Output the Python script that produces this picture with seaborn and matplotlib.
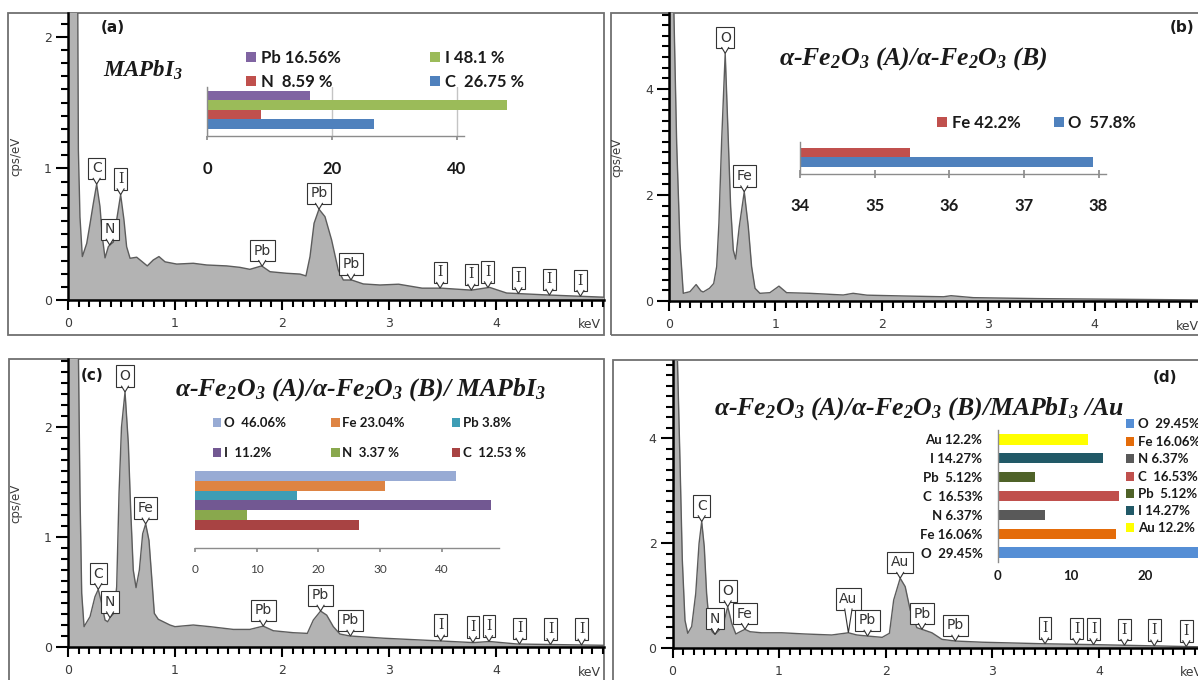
import numpy as np
import matplotlib
matplotlib.use("Agg")
import matplotlib.pyplot as plt
import matplotlib.transforms as mtransforms
from matplotlib.patches import Patch, Rectangle, Polygon
from matplotlib.ticker import MultipleLocator
import seaborn as sns

# ---------------- data ----------------
# (a) MAPbI3 spectrum
a_kev = [0.0, 0.06, 0.09, 0.097, 0.112, 0.134, 0.175, 0.206, 0.237, 0.268, 0.299, 0.321, 0.346,
         0.377, 0.393, 0.424, 0.455, 0.492, 0.523, 0.548, 0.58, 0.642, 0.68, 0.741, 0.797, 0.85,
         0.907, 1.016, 1.171, 1.296, 1.483, 1.607, 1.70, 1.81, 1.888, 2.044, 2.168, 2.224, 2.262,
         2.30, 2.346, 2.402, 2.464, 2.526, 2.573, 2.651, 2.76, 2.916, 3.09, 3.31, 3.49, 3.77, 3.94,
         4.10, 4.49, 5.05]
a_cps = [6.0, 6.0, 2.5, 1.14, 0.63, 0.33, 0.43, 0.58, 0.735, 0.88, 0.71, 0.48, 0.32,
         0.405, 0.42, 0.44, 0.61, 0.80, 0.61, 0.405, 0.317, 0.325, 0.30, 0.259, 0.304, 0.33,
         0.29, 0.273, 0.279, 0.266, 0.259, 0.248, 0.233, 0.259, 0.215, 0.203, 0.197, 0.183, 0.33,
         0.583, 0.69, 0.633, 0.456, 0.228, 0.152, 0.152, 0.122, 0.114, 0.12, 0.09, 0.09, 0.075, 0.096,
         0.053, 0.038, 0.02]
a_peak_names = ["C", "N", "I", "Pb", "Pb", "Pb", "I", "I", "I", "I", "I", "I"]
a_peak_kev = [0.268, 0.39, 0.492, 1.815, 2.346, 2.645, 3.478, 3.77, 3.925, 4.21, 4.50, 4.79]

# (b) a-Fe2O3 (A)/a-Fe2O3 (B) spectrum
b_kev = [0.0, 0.04, 0.072, 0.103, 0.134, 0.197, 0.255, 0.30, 0.322, 0.38, 0.42, 0.448, 0.469,
         0.495, 0.528, 0.557, 0.579, 0.604, 0.626, 0.66, 0.707, 0.745, 0.776, 0.808, 0.854,
         0.948, 1.033, 1.105, 1.324, 1.637, 1.73, 1.86, 2.22, 2.58, 2.65, 2.86, 3.47, 5.0]
b_cps = [12.0, 6.0, 2.97, 1.09, 0.145, 0.176, 0.31, 0.19, 0.17, 0.24, 0.33, 0.65, 1.47,
         3.04, 4.67, 3.04, 1.78, 0.96, 0.79, 1.40, 2.06, 1.40, 0.65, 0.24, 0.145,
         0.157, 0.28, 0.157, 0.145, 0.113, 0.145, 0.11, 0.094, 0.08, 0.10, 0.063, 0.045, 0.02]
b_peak_names = ["O", "Fe"]
b_peak_kev = [0.528, 0.707]

# (c) a-Fe2O3 (A)/a-Fe2O3 (B)/MAPbI3 spectrum
c_kev = [0.0, 0.06, 0.097, 0.112, 0.128, 0.15, 0.206, 0.252, 0.283, 0.315, 0.346, 0.371, 0.399,
         0.43, 0.455, 0.477, 0.50, 0.533, 0.564, 0.586, 0.61, 0.636, 0.667, 0.698, 0.726, 0.757,
         0.782, 0.807, 0.844, 0.953, 1.0, 1.171, 1.327, 1.545, 1.70, 1.825, 1.919, 2.106, 2.237,
         2.293, 2.361, 2.418, 2.48, 2.542, 2.636, 2.95, 3.48, 3.79, 3.94, 4.2, 5.05]
c_cps = [6.0, 6.0, 2.7, 1.40, 0.49, 0.185, 0.276, 0.457, 0.524, 0.397, 0.245, 0.23, 0.276,
         0.306, 0.548, 1.40, 2.0, 2.32, 1.85, 1.245, 0.70, 0.54, 0.70, 1.03, 1.12, 0.97,
         0.64, 0.306, 0.252, 0.20, 0.185, 0.20, 0.185, 0.16, 0.16, 0.19, 0.148, 0.13, 0.124,
         0.245, 0.327, 0.29, 0.185, 0.118, 0.10, 0.08, 0.055, 0.04, 0.05, 0.027, 0.015]
c_peak_names = ["C", "N", "O", "Fe", "Pb", "Pb", "Pb", "I", "I", "I", "I", "I", "I"]
c_peak_kev = [0.283, 0.393, 0.533, 0.726, 1.825, 2.361, 2.64, 3.485, 3.785, 3.935, 4.22, 4.51, 4.80]

# (d) a-Fe2O3 (A)/a-Fe2O3 (B)/MAPbI3/Au spectrum
d_kev = [0.0, 0.04, 0.07, 0.092, 0.117, 0.143, 0.18, 0.218, 0.249, 0.274, 0.298, 0.32, 0.345,
         0.373, 0.399, 0.446, 0.487, 0.518, 0.556, 0.594, 0.634, 0.68, 0.728, 0.837, 1.025,
         1.244, 1.494, 1.65, 1.73, 1.83, 1.967, 2.035, 2.075, 2.136, 2.183, 2.23, 2.293, 2.34,
         2.434, 2.528, 2.653, 2.91, 3.50, 3.94, 5.0]
d_cps = [12.0, 6.0, 3.58, 1.68, 0.53, 0.28, 0.41, 1.04, 1.99, 2.41, 1.93, 1.04, 0.47,
         0.31, 0.26, 0.356, 0.533, 0.787, 0.47, 0.267, 0.31, 0.356, 0.31, 0.29, 0.29,
         0.267, 0.248, 0.29, 0.248, 0.228, 0.203, 0.28, 0.914, 1.33, 1.17, 0.724, 0.387, 0.356,
         0.29, 0.165, 0.133, 0.11, 0.08, 0.065, 0.02]
d_peak_names = ["C", "N", "O", "Fe", "Au", "Pb", "Au", "Pb", "Pb", "I", "I", "I", "I", "I", "I"]
d_peak_kev = [0.274, 0.399, 0.518, 0.68, 1.65, 1.83, 2.136, 2.34, 2.653, 3.495, 3.79, 3.95, 4.24, 4.52, 4.82]

# inset compositions
a_el = ["Pb", "I", "N", "C"]
a_pct = [16.56, 48.1, 8.59, 26.75]
a_legend = ["Pb 16.56%", "I 48.1 %", "N  8.59 %", "C  26.75 %"]
a_colors = ["#8064A2", "#9BBB59", "#C0504D", "#4F81BD"]
a_ticks = [0, 20, 40]

b_el = ["Fe", "O"]
b_bar = [35.48, 37.92]
b_legend = ["Fe 42.2%", "O  57.8%"]
b_colors = ["#C0504D", "#4F81BD"]
b_ticks = [34, 35, 36, 37, 38]

c_el = ["O", "Fe", "Pb", "I", "N", "C"]
c_bar = [42.2, 30.7, 16.5, 48.0, 8.5, 26.5]
c_legend = ["O  46.06%", "Fe 23.04%", "Pb 3.8%", "I  11.2%", "N  3.37 %", "C  12.53 %"]
c_colors = ["#98ABD4", "#DE8443", "#3E9DB5", "#725892", "#89A84D", "#A84343"]
c_ticks = [0, 10, 20, 30, 40]

d_el = ["Au", "I", "Pb", "C", "N", "Fe", "O"]
d_pct = [12.2, 14.27, 5.12, 16.53, 6.37, 16.06, 29.45]
d_labels = ["Au 12.2%", "I 14.27%", "Pb  5.12%", "C  16.53%", "N 6.37%", "Fe 16.06%", "O  29.45%"]
d_colors = ["#FFFF00", "#215967", "#4F6228", "#C0504D", "#595959", "#E46C0A", "#558ED5"]
d_legend_order = ["O", "Fe", "N", "C", "Pb", "I", "Au"]
d_ticks = [0, 10, 20]

# ---------------- style ----------------
sns.set_theme(style="white")
plt.rcParams["font.family"] = ["DejaVu Sans"]
plt.rcParams["mathtext.fontset"] = "custom"
plt.rcParams["mathtext.rm"] = "Liberation Serif:bold:italic"
plt.rcParams["mathtext.it"] = "Liberation Serif:bold:italic"
plt.rcParams["mathtext.bf"] = "Liberation Serif:bold:italic"

W, H, DPI = 1198, 680, 100
FILL = "#B3B3B3"
LINE = "#5C5C5C"
TXT = "#3A3A3A"
GRAYAX = "#8C8C8C"
SANS = ["Lato", "DejaVu Sans"]
SERIF = ["Liberation Serif", "DejaVu Serif"]
TITLE_FS = 18.5

fig = plt.figure(figsize=(W / DPI, H / DPI), dpi=DPI)
fig.patch.set_facecolor("white")


def add_ax(l, t, r, b):
    return fig.add_axes([l / W, 1 - b / H, (r - l) / W, (b - t) / H])


def frame(l, t, r, b):
    fig.add_artist(Rectangle((l / W, 1 - b / H), (r - l) / W, (b - t) / H,
                             transform=fig.transFigure, fill=False,
                             ec="#707070", lw=1.3, zorder=0))


def spectrum(ax, kev, cps, xmax, ymax, yticks, yminor, ylabel=True):
    ax.fill_between(kev, cps, 0, color=FILL, lw=0, zorder=1)
    sns.lineplot(x=kev, y=cps, ax=ax, color=LINE, lw=1.0, estimator=None,
                 sort=False, zorder=2)
    ax.set_facecolor("none")
    for s in ["top", "right"]:
        ax.spines[s].set_visible(False)
    for s in ["left", "bottom"]:
        ax.spines[s].set_color("black")
        ax.spines[s].set_linewidth(1.8)
    ax.set_xticks([0, 1, 2, 3, 4])
    ax.xaxis.set_minor_locator(MultipleLocator(0.1))
    ax.set_yticks(yticks)
    ax.yaxis.set_minor_locator(MultipleLocator(yminor))
    ax.tick_params(axis="both", which="both", direction="out", color="black",
                   width=1.5, labelsize=9, labelcolor=TXT, bottom=True, left=True)
    ax.tick_params(axis="x", which="major", length=7.5, pad=5)
    ax.tick_params(axis="x", which="minor", length=5)
    ax.tick_params(axis="y", which="major", length=9, pad=2.5)
    ax.tick_params(axis="y", which="minor", length=5)
    ax.set_xlabel("")
    ax.set_ylabel("")
    if ylabel:
        ax.set_ylabel("cps/eV", fontsize=8.5, color=TXT)
        ax.yaxis.set_label_coords(-0.086, 0.5)
    ax.text(4.87, -0.087, "keV", transform=ax.get_xaxis_transform(), ha="center",
            va="center", fontsize=9, color=TXT, clip_on=False)
    ax.set_xlim(0, xmax)
    ax.set_ylim(0, ymax)


def peak_labels(ax, names, kevs, kev, cps, lifts=None):
    fs, pad = 10, 0.27
    for i, (nm, e) in enumerate(zip(names, kevs)):
        y = float(np.interp(e, kev, cps))
        lift = 0 if lifts is None else lifts[i]
        h = 3.6 + lift
        fam = ["DejaVu Serif"] if nm == "I" else ["DejaVu Sans"]
        ax.annotate(nm, xy=(e, y), xytext=(0, h + fs * pad), textcoords="offset points",
                    ha="center", va="bottom", fontsize=fs, color="#333333", family=fam,
                    bbox=dict(boxstyle=f"square,pad={pad}", fc="white", ec="#333333", lw=0.8),
                    zorder=5)
        tr = (mtransforms.Affine2D().scale(1 / 72.0) + fig.dpi_scale_trans +
              mtransforms.ScaledTranslation(e, y, ax.transData))
        ax.add_patch(Polygon([(-2.7, h + 0.9), (0, 0), (2.7, h + 0.9)], closed=False,
                             fc="white", ec="#333333", lw=0.8, transform=tr, zorder=6))


def legend_entry(label, color, xpx, ypx, fs, sq_px, gap_px):
    fpx = fs * DPI / 72.0
    fig.legend(handles=[Patch(facecolor=color, edgecolor="none")], labels=[label],
               loc="center left", bbox_to_anchor=(xpx / W, 1 - ypx / H), frameon=False,
               borderpad=0, borderaxespad=0, handlelength=sq_px / fpx,
               handleheight=sq_px / fpx, handletextpad=gap_px / fpx,
               prop=dict(family=SANS, weight="bold", size=fs), labelcolor="#1A1A1A")


def inset_bars(ax, vals, cats, colors, width):
    sns.barplot(x=vals, y=cats, hue=cats, palette=colors, width=width, saturation=1,
                legend=False, ax=ax, orient="y", linewidth=0)
    ax.set_facecolor("none")
    ax.set_xlabel("")
    ax.set_ylabel("")
    for s in ["top", "right"]:
        ax.spines[s].set_visible(False)
    for s in ["left", "bottom"]:
        ax.spines[s].set_color(GRAYAX)
        ax.spines[s].set_linewidth(1.0)


def style_ticklabels(ax, axis, size, weight, color="#1A1A1A"):
    lbls = ax.get_xticklabels() if axis == "x" else ax.get_yticklabels()
    for t in lbls:
        t.set_family(SANS)
        t.set_fontweight(weight)
        t.set_fontsize(size)
        t.set_color(color)


def title(xpx, ypx, s, fs=TITLE_FS):
    fig.text(xpx / W, 1 - ypx / H, s, ha="left", va="baseline", fontsize=fs,
             family=SERIF, style="italic", weight="bold", color="#1A1A1A")


def panel_letter(xpx, ypx, s):
    fig.text(xpx / W, 1 - ypx / H, s, ha="center", va="center", fontsize=11,
             weight="bold", color="#1A1A1A")


# ---------------- frames ----------------
frame(8, 13, 604, 335)
frame(611, 13, 1210, 335)
frame(9, 359, 604, 690)
frame(613, 360, 1210, 690)

# ---------------- panel (a) ----------------
axa = add_ax(68, 13, 604, 300)
spectrum(axa, a_kev, a_cps, 5.01, 2.18, [0, 1, 2], 0.1)
peak_labels(axa, a_peak_names, a_peak_kev, a_kev, a_cps)

ia = add_ax(207, 87, 464, 136)
inset_bars(ia, a_pct, a_el, a_colors, 1.0)
for p in ia.patches:
    p.set_clip_on(False)
ia.set_xlim(0, 41.2)
ia.set_ylim(4.24, -0.92)
ia.set_yticks([])
ia.set_xticks(a_ticks)
ia.xaxis.grid(True, color="#C4C4C4", lw=1.0)
ia.set_axisbelow(True)
ia.tick_params(axis="x", bottom=True, direction="out", length=3, color=GRAYAX, pad=15)
style_ticklabels(ia, "x", 12, "bold")
for lab, col, pos in zip(a_legend, a_colors, [(246, 58), (430, 58), (246, 82), (430, 82)]):
    legend_entry(lab, col, pos[0], pos[1], 12, 10, 4.6)

title(103, 77, "MAPbI$_3$", fs=16.5)
panel_letter(113, 27, "(a)")

# ---------------- panel (b) ----------------
axb = add_ax(669, 13, 1198, 301)
spectrum(axb, b_kev, b_cps, 4.97, 5.43, [0, 2, 4], 0.2)
peak_labels(axb, b_peak_names, b_peak_kev, b_kev, b_cps)

ib = add_ax(800, 142, 1106, 174)
inset_bars(ib, b_bar, b_el, b_colors, 1.0)
ib.set_xlim(34, 38.1)
ib.set_ylim(2.24, -1.13)
ib.set_yticks([])
ib.set_xticks(b_ticks)
ib.tick_params(axis="x", bottom=True, direction="inout", length=6, color=GRAYAX, pad=14)
style_ticklabels(ib, "x", 12, "bold")
for lab, col, pos in zip(b_legend, b_colors, [(937, 123), (1054, 123)]):
    legend_entry(lab, col, pos[0], pos[1], 12, 10, 4.5)

title(779, 65, "α-Fe$_2$O$_3$ (A)/α-Fe$_2$O$_3$ (B)")
panel_letter(1182, 28, "(b)")

# ---------------- panel (c) ----------------
axc = add_ax(68, 359, 604, 647)
spectrum(axc, c_kev, c_cps, 5.01, 2.62, [0, 1, 2], 0.1)
peak_labels(axc, c_peak_names, c_peak_kev, c_kev, c_cps)

ic = add_ax(195, 471, 499.4, 548.3)
inset_bars(ic, c_bar, c_el, c_colors, 1.0)
ic.spines["left"].set_visible(False)
ic.set_xlim(0, 49.3)
ic.set_ylim(7.37, -0.5)
ic.set_yticks([])
ic.set_xticks(c_ticks)
ic.tick_params(axis="x", bottom=True, direction="out", length=3.2, color=GRAYAX, pad=8)
style_ticklabels(ic, "x", 8.5, "normal", color="#404040")
c_pos = [(212.5, 423), (331, 423), (451.6, 423), (212.5, 453), (331, 453), (451.6, 453)]
for lab, col, pos in zip(c_legend, c_colors, c_pos):
    legend_entry(lab, col, pos[0], pos[1], 9.5, 8.5, 2.5)

title(175, 396, "α-Fe$_2$O$_3$ (A)/α-Fe$_2$O$_3$ (B)/ MAPbI$_3$")
panel_letter(92, 375, "(c)")

# ---------------- panel (d) ----------------
axd = add_ax(672.5, 361, 1198, 648)
spectrum(axd, d_kev, d_cps, 4.93, 5.47, [0, 2, 4], 0.2, ylabel=False)
d_lifts = [0, 0, 0, 0, 13, 0, 0, 0, 0, 0, 0, 0, 0, 0, 0]
peak_labels(axd, d_peak_names, d_peak_kev, d_kev, d_cps, d_lifts)

idd = add_ax(997.7, 430, 1198, 562)
inset_bars(idd, d_pct, d_el, d_colors, 0.55)
idd.spines["bottom"].set_visible(False)
idd.set_xlim(0, 27.2)
idd.set_ylim(6.5, -0.5)
idd.set_yticks(range(len(d_el)), labels=d_labels)
idd.set_xticks(d_ticks)
idd.tick_params(axis="both", length=0)
idd.tick_params(axis="y", pad=11)
idd.tick_params(axis="x", pad=6)
style_ticklabels(idd, "x", 9.5, "bold")
style_ticklabels(idd, "y", 9.5, "bold")
d_lab_map = dict(zip(d_el, d_labels))
d_col_map = dict(zip(d_el, d_colors))
d_rows = [424, 442, 459, 477, 494, 511, 528]
for el, ypx in zip(d_legend_order, d_rows):
    legend_entry(d_lab_map[el], d_col_map[el], 1126, ypx, 9.5, 8.4, 3.8)

title(714.5, 415, "α-Fe$_2$O$_3$ (A)/α-Fe$_2$O$_3$ (B)/MAPbI$_3$ /Au")
panel_letter(1165, 378, "(d)")

fig.savefig("out.png", dpi=DPI)
